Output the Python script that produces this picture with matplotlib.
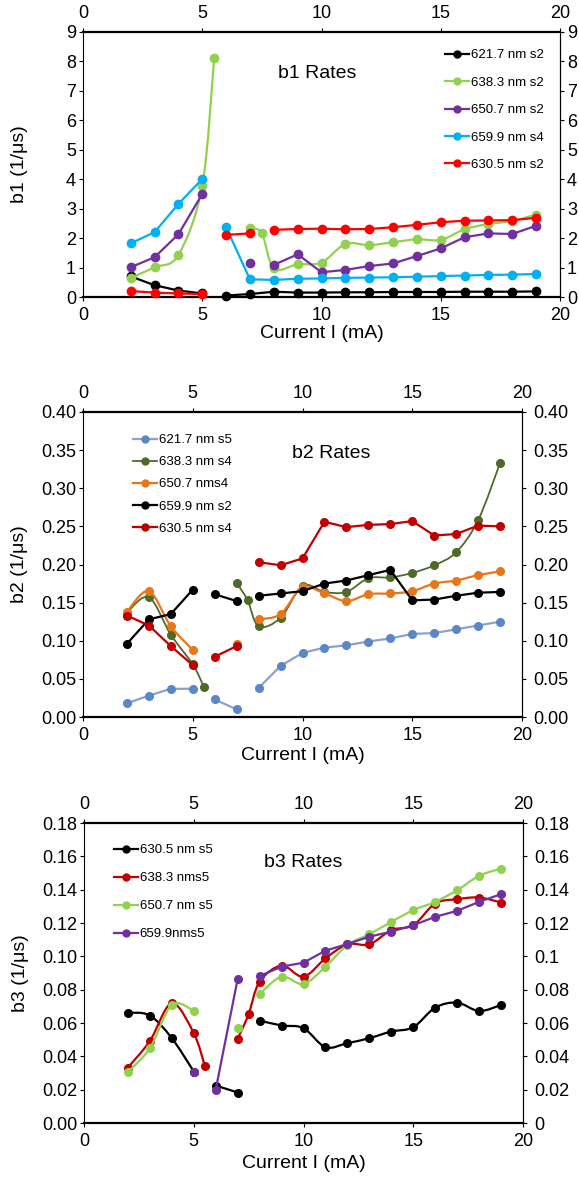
"""
b1 / b2 / b3 rate curves against discharge current, three stacked panels.
Output: out.png
"""
import numpy as np
import matplotlib
matplotlib.use("Agg")
import matplotlib.pyplot as plt
from matplotlib.path import Path
from matplotlib.patches import PathPatch
from matplotlib.lines import Line2D
from matplotlib.ticker import FuncFormatter

plt.rcParams["font.family"] = ["Liberation Sans", "DejaVu Sans"]

# ── Data (None = break in the line) ─────────────────────────────────────────

X_HI = [8, 9, 10, 11, 12, 13, 14, 15, 16, 17, 18, 19]

# b1 panel
B1_621_X = [2, 3, 4, 5, None, 6, 7] + X_HI
B1_621_Y = [0.70, 0.40, 0.22, 0.12, None, 0.05, 0.10,
            0.18, 0.15, 0.15, 0.16, 0.16, 0.17, 0.17, 0.17, 0.18, 0.18, 0.18, 0.19]
B1_638_X = [2, 3, 4, 5, 5.5, None, 7, 7.5] + X_HI
B1_638_Y = [0.65, 1.01, 1.43, 3.78, 8.11, None, 2.33, 2.16,
            0.97, 1.11, 1.17, 1.80, 1.76, 1.86, 1.96, 1.94, 2.30, 2.48, 2.58, 2.80]
B1_650_X = [2, 3, 4, 5, None, 7, None] + X_HI
B1_650_Y = [1.01, 1.35, 2.13, 3.50, None, 1.17, None,
            1.09, 1.45, 0.84, 0.92, 1.05, 1.14, 1.39, 1.65, 2.03, 2.16, 2.14, 2.42]
B1_659_X = [2, 3, 4, 5, None, 6, 7] + X_HI
B1_659_Y = [1.82, 2.20, 3.16, 4.01, None, 2.37, 0.60,
            0.58, 0.62, 0.63, 0.65, 0.66, 0.67, 0.69, 0.71, 0.73, 0.75, 0.76, 0.78]
B1_630_X = [2, 3, 4, 5, None, 6, 7, None] + X_HI
B1_630_Y = [0.20, 0.15, 0.12, 0.10, None, 2.11, 2.16, None,
            2.28, 2.31, 2.32, 2.30, 2.31, 2.37, 2.45, 2.54, 2.59, 2.60, 2.61, 2.69]

# b2 panel
B2_621_X = [2, 3, 4, 5, None, 6, 7, None] + X_HI
B2_621_Y = [0.018, 0.028, 0.037, 0.037, None, 0.023, 0.010, None,
            0.038, 0.067, 0.084, 0.091, 0.094, 0.099, 0.103, 0.109, 0.110, 0.115, 0.120, 0.125]
B2_638_X = [2, 3, 4, 5, 5.5, None, 7, 7.5] + X_HI
B2_638_Y = [0.137, 0.157, 0.108, 0.069, 0.040, None, 0.176, 0.153,
            0.119, 0.130, 0.172, 0.164, 0.164, 0.182, 0.183, 0.189, 0.199, 0.216, 0.258, 0.333]
B2_650_X = [2, 3, 4, 5, None, 7, None] + X_HI
B2_650_Y = [0.138, 0.165, 0.119, 0.088, None, 0.096, None,
            0.128, 0.135, 0.170, 0.162, 0.152, 0.161, 0.162, 0.165, 0.175, 0.179, 0.186, 0.191]
B2_659_X = [2, 3, 4, 5, None, 6, 7, None] + X_HI
B2_659_Y = [0.096, 0.128, 0.135, 0.167, None, 0.161, 0.152, None,
            0.159, 0.162, 0.165, 0.175, 0.179, 0.186, 0.193, 0.153, 0.154, 0.159, 0.163, 0.164]
B2_630_X = [2, 3, 4, 5, None, 6, 7, None] + X_HI
B2_630_Y = [0.133, 0.120, 0.093, 0.068, None, 0.079, 0.093, None,
            0.203, 0.199, 0.208, 0.256, 0.249, 0.252, 0.253, 0.257, 0.238, 0.240, 0.251, 0.250]

# b3 panel
B3_630_X = [2, 3, 4, 5, None, 6, 7, None] + X_HI
B3_630_Y = [0.0662, 0.0645, 0.0509, 0.0309, None, 0.0225, 0.0183, None,
            0.0615, 0.0585, 0.0569, 0.0455, 0.0479, 0.0509, 0.0549, 0.0575, 0.0692, 0.0722, 0.0672, 0.0708]
B3_638_X = [2, 3, 4, 5, 5.5, None, 7, 7.5] + X_HI
B3_638_Y = [0.0333, 0.0492, 0.0718, 0.0539, 0.0345, None, 0.0505, 0.0653,
            0.0848, 0.0944, 0.0878, 0.0988, 0.1072, 0.1072, 0.1157, 0.1187, 0.1317, 0.1343, 0.1353, 0.1323]
B3_650_X = [2, 3, 4, 5, None, 7, None] + X_HI
B3_650_Y = [0.0305, 0.0449, 0.0708, 0.0674, None, 0.0569, None,
            0.0774, 0.0878, 0.0834, 0.0938, 0.1068, 0.1133, 0.1207, 0.1277, 0.1327, 0.1397, 0.1483, 0.1527]
B3_659_X = [5, None, 6, 7, None] + X_HI
B3_659_Y = [0.0309, None, 0.0200, 0.0864, None,
            0.0882, 0.0938, 0.0962, 0.1034, 0.1074, 0.1118, 0.1148, 0.1187, 0.1237, 0.1273, 0.1327, 0.1373]

BLACK = "#000000"
LGREEN = "#92d050"
PURPLE = "#7030a0"
CYAN = "#00b0f0"
RED = "#ff0000"
DRED = "#c00000"
OLIVE = "#4f6a28"
ORANGE = "#e8761a"
STEEL = "#5a87c6"
STEEL_LINE = "#8aa2c8"

W, H = 579, 1185


def split_segments(xs, ys):
    segs, cx, cy = [], [], []
    for x, y in zip(xs, ys):
        if x is None:
            if cx:
                segs.append((np.array(cx), np.array(cy)))
            cx, cy = [], []
        else:
            cx.append(x)
            cy.append(y)
    if cx:
        segs.append((np.array(cx), np.array(cy)))
    return segs


def smooth_path(x, y):
    """Catmull-Rom style bezier through the points (like a smoothed line)."""
    pts = np.column_stack([x, y])
    n = len(pts)
    verts, codes = [pts[0]], [Path.MOVETO]
    for i in range(n - 1):
        p0 = pts[max(i - 1, 0)]
        p1, p2 = pts[i], pts[i + 1]
        p3 = pts[min(i + 2, n - 1)]
        verts += [p1 + (p2 - p0) / 6, p2 - (p3 - p1) / 6, p2]
        codes += [Path.CURVE4] * 3
    return Path(verts, codes)


def draw_series(ax, xs, ys, color, z, smooth=False, line_color=None, lw=1.6, ms=6):
    lc = line_color or color
    for sx, sy in split_segments(xs, ys):
        if len(sx) > 1:
            if smooth and len(sx) > 2:
                ax.add_patch(PathPatch(smooth_path(sx, sy), facecolor="none",
                                       edgecolor=lc, lw=lw, zorder=z,
                                       capstyle="round", joinstyle="round"))
            else:
                ax.plot(sx, sy, color=lc, lw=lw, zorder=z,
                        solid_capstyle="round", solid_joinstyle="round")
        ax.plot(sx, sy, "o", color=color, ms=ms, mec=color, zorder=z + 0.5,
                clip_on=False)
    return Line2D([], [], color=lc, lw=lw, marker="o", ms=5, mfc=color, mec=color)


def setup_axes(ax, ymax, nticks, fmt_left, fmt_right, ylabel, px_w, px_h,
               right_pad, xlabel_top_px):
    ax.set_xlim(0, 20)
    ax.set_ylim(0, ymax)
    ax.set_xticks([0, 5, 10, 15, 20])
    yt = np.linspace(0, ymax, nticks + 1)
    ax.set_yticks(yt)
    ax.yaxis.set_major_formatter(FuncFormatter(fmt_left))
    ax.tick_params(axis="x", top=True, labeltop=True, direction="out",
                   length=3, width=0.8, labelsize=13, pad=4)
    ax.tick_params(axis="y", direction="out", length=3, width=0.8,
                   labelsize=13, pad=2)
    sec = ax.secondary_yaxis("right")
    sec.set_yticks(yt)
    sec.yaxis.set_major_formatter(FuncFormatter(fmt_right))
    sec.tick_params(direction="out", length=3, width=0.8, labelsize=13,
                    pad=right_pad)
    sec.spines["right"].set_linewidth(0.8)
    for s in ("top", "bottom"):
        ax.spines[s].set_linewidth(1.6)
    for s in ("left", "right"):
        ax.spines[s].set_linewidth(0.8)
    ax.set_ylabel(ylabel, fontsize=14)
    ax.yaxis.set_label_coords(-55 / px_w, 0.5)
    ax.set_xlabel("Current I (mA)", fontsize=14)
    ax.xaxis.set_label_coords(0.5, -xlabel_top_px / px_h)


def add_legend(ax, handles, labels, x0, y0, spacing):
    ax.legend(handles, labels, loc="upper left", bbox_to_anchor=(x0, y0),
              frameon=False, fontsize=9.5, handlelength=1.8,
              handletextpad=0.15, borderpad=0, borderaxespad=0,
              labelspacing=spacing)


fig = plt.figure(figsize=(W / 100, H / 100), dpi=100)

# ── Panel 1: b1 ─────────────────────────────────────────────────────────────
p1 = (83, 32, 560, 297)  # left, top, right, bottom in px
ax1 = fig.add_axes([p1[0] / W, 1 - p1[3] / H, (p1[2] - p1[0]) / W, (p1[3] - p1[1]) / H])
h1 = [
    draw_series(ax1, B1_621_X, B1_621_Y, BLACK, 3),
    draw_series(ax1, B1_638_X, B1_638_Y, LGREEN, 4, smooth=True),
    draw_series(ax1, B1_650_X, B1_650_Y, PURPLE, 5),
    draw_series(ax1, B1_659_X, B1_659_Y, CYAN, 6),
    draw_series(ax1, B1_630_X, B1_630_Y, RED, 7),
]
setup_axes(ax1, 9, 9, lambda v, _: f"{v:.0f}", lambda v, _: f"{v:.0f}",
           "b1 (1/\u03bcs)", p1[2] - p1[0], p1[3] - p1[1], 2, 28)
add_legend(ax1, h1, ["621.7 nm s2", "638.3 nm s2", "650.7 nm s2",
                     "659.9 nm s4", "630.5 nm s2"], 0.759, 0.935, 1.15)
ax1.text(0.49, 0.842, "b1 Rates", transform=ax1.transAxes, fontsize=14,
         ha="center", va="center")

# ── Panel 2: b2 ─────────────────────────────────────────────────────────────
p2 = (83, 412, 522, 717)
ax2 = fig.add_axes([p2[0] / W, 1 - p2[3] / H, (p2[2] - p2[0]) / W, (p2[3] - p2[1]) / H])
h2 = [
    draw_series(ax2, B2_621_X, B2_621_Y, STEEL, 3, line_color=STEEL_LINE, ms=5.5),
    draw_series(ax2, B2_638_X, B2_638_Y, OLIVE, 4, smooth=True, lw=1.3, ms=5.5),
    draw_series(ax2, B2_650_X, B2_650_Y, ORANGE, 5, smooth=True, ms=5.5),
    draw_series(ax2, B2_659_X, B2_659_Y, BLACK, 6, ms=5.5),
    draw_series(ax2, B2_630_X, B2_630_Y, DRED, 7, ms=5.5),
]
setup_axes(ax2, 0.4, 8, lambda v, _: f"{v:.2f}", lambda v, _: f"{v:.2f}",
           "b2 (1/\u03bcs)", p2[2] - p2[0], p2[3] - p2[1], 5, 30)
add_legend(ax2, h2, ["621.7 nm s5", "638.3 nm s4", "650.7 nms4",
                     "659.9 nm s2", "630.5 nm s4"], 0.114, 0.928, 0.75)
ax2.text(0.566, 0.865, "b2 Rates", transform=ax2.transAxes, fontsize=14,
         ha="center", va="center")

# ── Panel 3: b3 ─────────────────────────────────────────────────────────────
p3 = (84, 823, 523, 1123)
ax3 = fig.add_axes([p3[0] / W, 1 - p3[3] / H, (p3[2] - p3[0]) / W, (p3[3] - p3[1]) / H])
h3 = [
    draw_series(ax3, B3_630_X, B3_630_Y, BLACK, 3, smooth=True, ms=5.5),
    draw_series(ax3, B3_638_X, B3_638_Y, DRED, 4, smooth=True, ms=5.5),
    draw_series(ax3, B3_650_X, B3_650_Y, LGREEN, 5, smooth=True, ms=5.5),
    draw_series(ax3, B3_659_X, B3_659_Y, PURPLE, 6, ms=5.5),
]
setup_axes(ax3, 0.18, 9, lambda v, _: f"{v:.2f}", lambda v, _: f"{v:g}",
           "b3 (1/\u03bcs)", p3[2] - p3[0], p3[3] - p3[1], 5, 32)
add_legend(ax3, h3, ["630.5 nm s5", "638.3 nms5", "650.7 nm s5",
                     "659.9nms5"], 0.068, 0.93, 1.2)
ax3.text(0.5, 0.867, "b3 Rates", transform=ax3.transAxes, fontsize=14,
         ha="center", va="center")

fig.savefig("out.png", dpi=100)
